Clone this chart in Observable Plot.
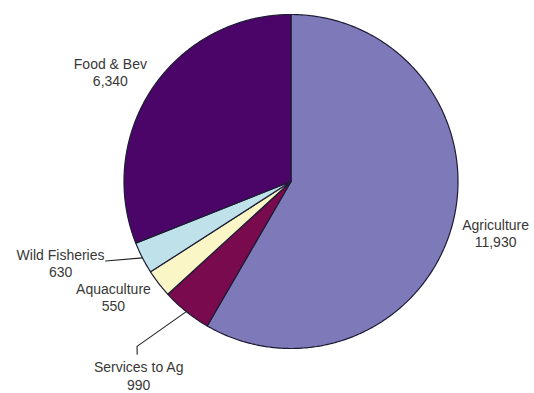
<!DOCTYPE html>
<html>
<head>
<meta charset="utf-8">
<script src="https://cdn.jsdelivr.net/npm/d3@7"></script>
<script src="https://cdn.jsdelivr.net/npm/@observablehq/plot@0.6"></script>
<style>
  html, body { margin: 0; padding: 0; background: #fff; }
  #chart svg { display: block; }
</style>
</head>
<body>
<div id="chart"></div>
<script>
// ---- data (clockwise from 12 o'clock) ----
const categories = ["Agriculture", "Services to Ag", "Aquaculture", "Wild Fisheries", "Food & Bev"];
const values = [11930, 990, 550, 630, 6340];
const colors = ["#7e79b9", "#7a0a4e", "#fbf6c6", "#bfe2ea", "#4b0568"];

// ---- layout (label placement, polar: radius factor and angle nudge in degrees) ----
const labelRadius = [1.264, 1.477, 1.269, 1.463, 1.264];
const labelNudge = [-0.8, -0.7, 4.5, 7.8, -3.0];
// leader lines: list of [angle nudge, radius] points after the slice edge point
const leaders = {
  "Wild Fisheries": [[4.0, 1.208]],
  "Services to Ag": [[4.2, 1.351], [2.85, 1.385]]
};

const W = 534, H = 393;
const R = 167, CX = 290.5, CY = 181;

const total = d3.sum(values);
const rad = a => a * Math.PI / 180;
const polar = (a, r) => ({x: r * Math.sin(rad(a)), y: -r * Math.cos(rad(a))});

const slicePts = [];
const labels = [];
const leaderPts = [];
let acc = 0;
categories.forEach((name, i) => {
  const a0 = acc / total * 360;
  acc += values[i];
  const a1 = acc / total * 360;
  const mid = (a0 + a1) / 2;
  slicePts.push({name, x: 0, y: 0});
  const n = Math.max(2, Math.ceil((a1 - a0) / 0.5));
  for (let k = 0; k <= n; k++) {
    const p = polar(a0 + (a1 - a0) * k / n, 1);
    slicePts.push({name, ...p});
  }
  const lp = polar(mid + labelNudge[i], labelRadius[i]);
  labels.push({name, text: name + "\n" + d3.format(",")(values[i]), ...lp});
  if (leaders[name]) {
    leaderPts.push({name, ...polar(mid, 1)});
    leaders[name].forEach(([da, r]) => leaderPts.push({name, ...polar(mid + da, r)}));
  }
});

const chart = Plot.plot({
  width: W,
  height: H,
  margin: 0,
  x: {domain: [-CX / R, (W - CX) / R], range: [0, W], axis: null},
  y: {domain: [-CY / R, (H - CY) / R], range: [0, H], axis: null},
  color: {domain: categories, range: colors},
  style: {background: "#fff"},
  marks: [
    Plot.line(slicePts, {
      x: "x", y: "y", z: "name", fill: "name",
      stroke: "#1c1c34", strokeWidth: 1.2, curve: "linear-closed", strokeLinejoin: "round"
    }),
    Plot.line(leaderPts, {x: "x", y: "y", z: "name", stroke: "#222", strokeWidth: 1.1}),
    Plot.text(labels, {
      x: "x", y: "y", text: "text",
      fontSize: 14, fontFamily: "Liberation Sans, Arial, sans-serif",
      fill: "#383838", textAnchor: "middle", lineAnchor: "middle", lineHeight: 1.22
    })
  ]
});
document.getElementById("chart").appendChild(chart);
</script>
</body>
</html>
